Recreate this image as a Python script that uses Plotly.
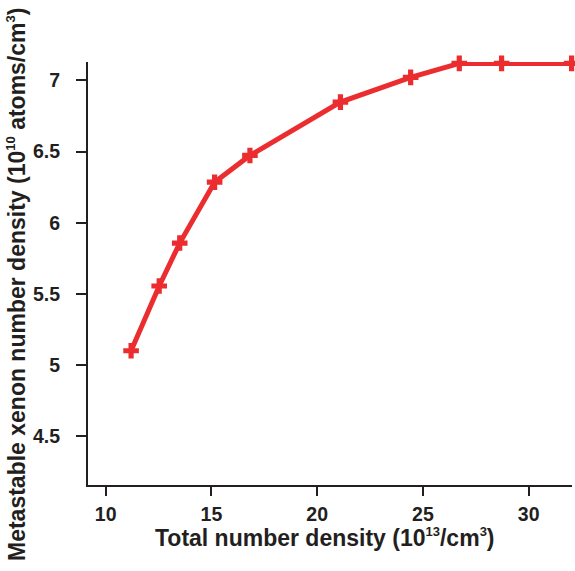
import plotly.graph_objects as go

total_density = [11.2, 12.53, 13.5, 15.15, 16.82, 21.1, 24.42, 26.72, 28.72, 32.03]
metastable_density = [5.10, 5.555, 5.857, 6.285, 6.473, 6.848, 7.022, 7.12, 7.12, 7.12]

x_ticks = [10, 15, 20, 25, 30]
y_ticks = [4.5, 5, 5.5, 6, 6.5, 7]
y_tick_labels = ["4.5", "5", "5.5", "6", "6.5", "7"]


def sup(s):
    return "<sup><span style='font-size:13px'>" + s + "</span></sup>"


x_title = "<b>Total number density (10" + sup("13") + "/cm" + sup("3") + ")</b>"
y_title = "<b>Metastable xenon number density (10" + sup("10") + " atoms/cm" + sup("3") + ")</b>"

red = "#ec2d2f"
ink = "#231f20"
font_family = "Liberation Sans, Arial, Helvetica, sans-serif"

fig = go.Figure()
fig.add_trace(go.Scatter(
    x=total_density, y=metastable_density,
    mode="lines+markers",
    line=dict(color=red, width=5),
    marker=dict(symbol="cross", size=13, color=red, line=dict(width=0)),
    cliponaxis=False,
    showlegend=False,
))

tick_font = dict(size=19.5, family=font_family, color=ink, weight="bold")

fig.update_layout(
    width=575, height=571,
    margin=dict(l=88, r=3, t=62, b=86, autoexpand=False),
    paper_bgcolor="white", plot_bgcolor="white",
    font=dict(family=font_family, color=ink),
    xaxis=dict(
        range=[9.163, 32.05],
        tickvals=x_ticks,
        ticks="outside", ticklen=9, tickwidth=2, tickcolor=ink,
        showline=True, linecolor=ink, linewidth=2,
        showgrid=False, zeroline=False, automargin=False,
        tickfont=tick_font, ticklabelstandoff=2,
    ),
    yaxis=dict(
        range=[4.156, 7.13],
        tickvals=y_ticks, ticktext=y_tick_labels,
        ticks="outside", ticklen=10, tickwidth=2, tickcolor=ink,
        showline=True, linecolor=ink, linewidth=2,
        showgrid=False, zeroline=False, automargin=False,
        tickfont=tick_font, ticklabelstandoff=12,
    ),
    annotations=[
        dict(text=x_title, xref="paper", yref="paper", x=0.49, y=-0.125,
             xanchor="center", yanchor="middle", showarrow=False,
             font=dict(size=23, family=font_family, color=ink)),
        dict(text=y_title, xref="paper", yref="paper", x=-0.1465, y=0.473,
             xanchor="center", yanchor="middle", textangle=-90, showarrow=False,
             font=dict(size=23, family=font_family, color=ink)),
    ],
)

fig.write_html("out.html", config={"displayModeBar": False},
               post_script="document.body.style.margin='0px';")
